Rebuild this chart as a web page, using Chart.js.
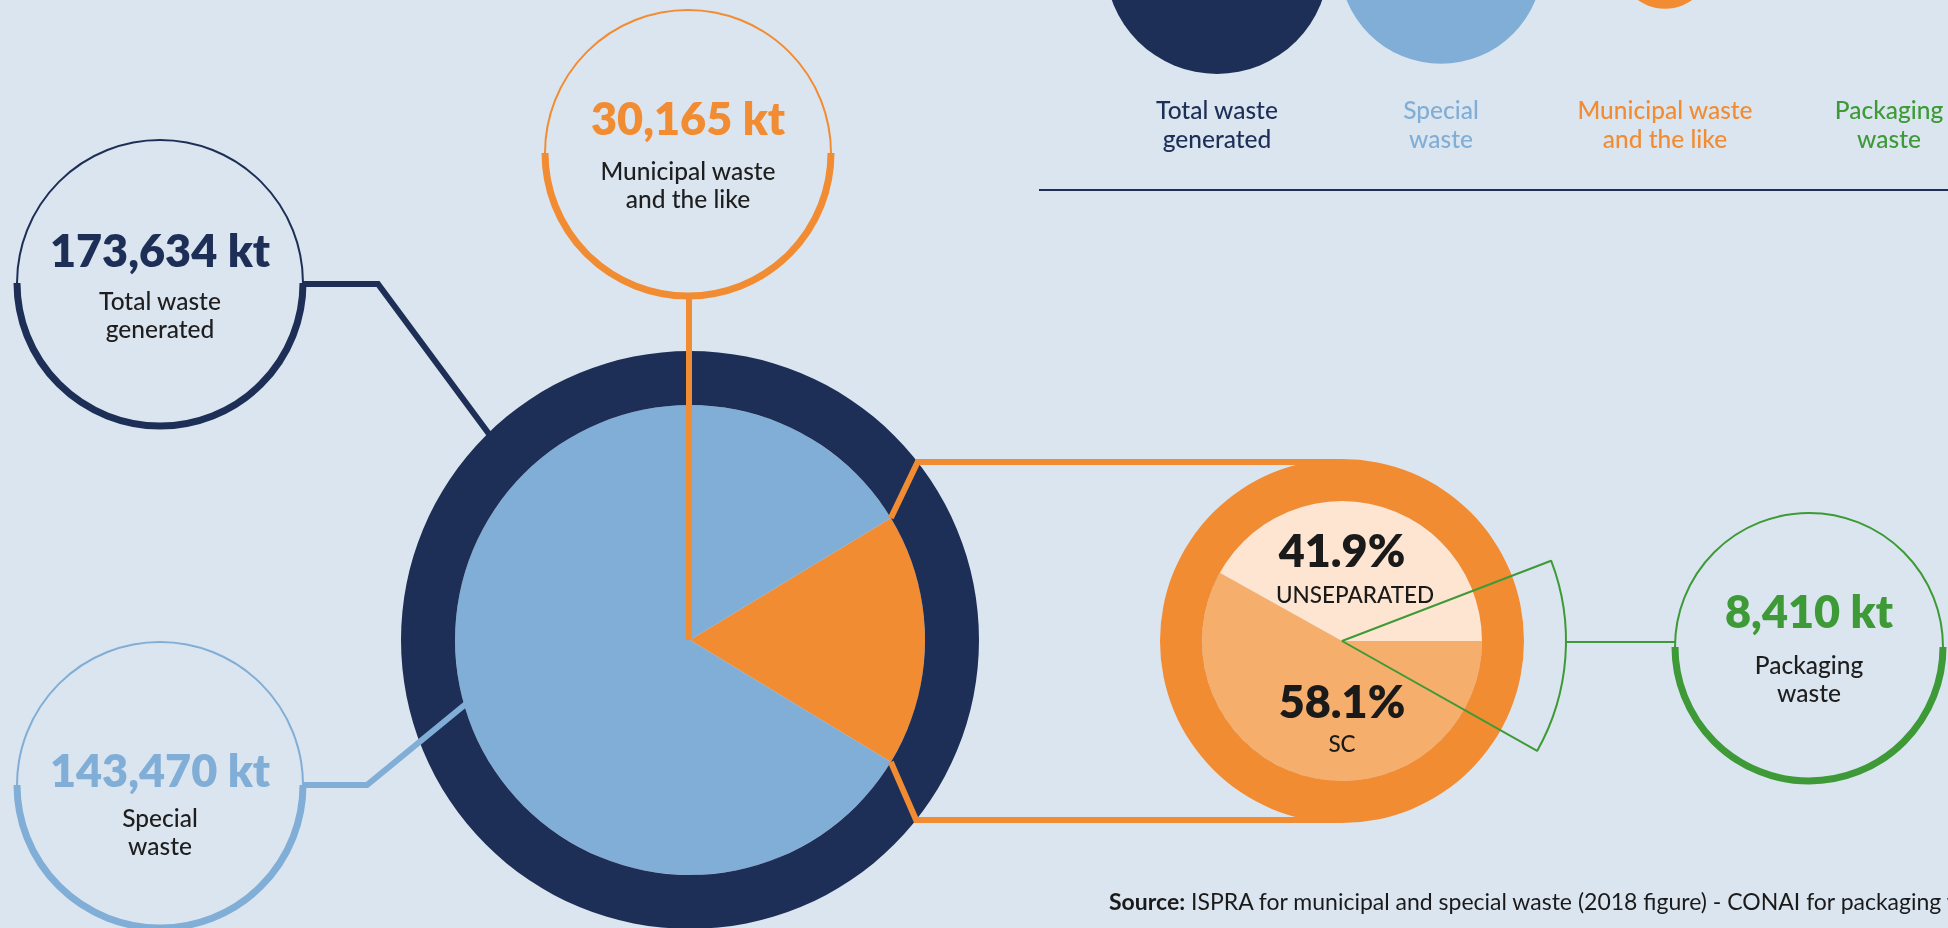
<!DOCTYPE html>
<html>
<head>
<meta charset="utf-8">
<script src="https://cdn.jsdelivr.net/npm/chart.js@4.4.0/dist/chart.umd.min.js"></script>
<style>
    html, body { margin: 0; padding: 0; }
    body { width: 1948px; height: 928px; overflow: hidden; background: #DBE5EF; position: relative; font-family: Lato, sans-serif; }
    canvas { position: absolute; }
    #overlay { position: absolute; left: 0; top: 0; }
    .big { font: 800 45px Lato, sans-serif; }
    .lbl { font: 500 24.5px Lato, sans-serif; fill: #1E1E1E; }
    .pct { font: 800 45px Lato, sans-serif; fill: #1A1A1A; }
    .cap { font: 500 22.5px Lato, sans-serif; fill: #1A1A1A; }
    .src { font: 400 23px Lato, sans-serif; fill: #1A1A1A; }
</style>
</head>
<body>
<canvas id="legendChart" width="896" height="300" style="left:1105px; top:-188px"></canvas>
<canvas id="mainChart" width="600" height="600" style="left:390px; top:340px"></canvas>
<canvas id="municipalChart" width="400" height="400" style="left:1142px; top:441px"></canvas>
<canvas id="packagingChart" width="500" height="500" style="left:1092px; top:391px"></canvas>
<svg id="overlay" width="1948" height="928"></svg>

<script>
// --- Data ---
const wasteCategories = ['Total waste generated', 'Special waste', 'Municipal waste and the like', 'Packaging waste'];
const wasteValuesKt = [173634, 143470, 30165, 8410];
const legendLines = [['Total waste', 'generated'], ['Special', 'waste'], ['Municipal waste', 'and the like'], ['Packaging', 'waste']];
const municipalSplitLabels = ['UNSEPARATED', 'SC'];
const municipalSplitPct = [41.9, 58.1];
const packagingWedgePct = [14, 86]; // wedge as drawn on the picture

// Colors
const NAVY = '#1E2F57';
const LIGHT = '#80AED6';
const ORANGE = '#F28C33';
const GREEN = '#3D9A37';
const PEACH = '#FDE5D1';
const SC_COLOR = '#F5AE6C';
const seriesColors = [NAVY, LIGHT, ORANGE, GREEN];

// Geometry of the two pies (page coords)
const MAIN = { cx: 690, cy: 640, ring: 289, pie: 235 };
const SMALL = { cx: 1342, cy: 641, ring: 182, pie: 140, wedge: 224 };
const LEGEND_LEFT = 1105;

const noInteraction = {
    responsive: false,
    animation: false,
    events: [],
    layout: { padding: 0, autoPadding: false },
    plugins: { legend: { display: false }, tooltip: { enabled: false } }
};

// Top bubble legend (area proportional to kt)
const bubbleK = 112 / Math.sqrt(wasteValuesKt[0]);
const legendChart = new Chart(document.getElementById('legendChart'), {
    type: 'bubble',
    data: {
        labels: wasteCategories,
        datasets: [{
            data: wasteValuesKt.map((v, i) => ({ x: wasteCategories[i], y: 0, r: bubbleK * Math.sqrt(v) })),
            backgroundColor: seriesColors,
            borderWidth: 0,
            clip: false
        }]
    },
    options: {
        ...noInteraction,
        scales: {
            x: { type: 'category', offset: true, display: false },
            y: { min: -1, max: 1, display: false }
        }
    }
});

// Main pie: total ring + special/municipal split
const municipalDeg = wasteValuesKt[2] / wasteValuesKt[0] * 360;
new Chart(document.getElementById('mainChart'), {
    type: 'doughnut',
    data: {
        labels: [wasteCategories[2], wasteCategories[1]],
        datasets: [
            { data: [wasteValuesKt[0]], backgroundColor: [NAVY], borderWidth: 0, weight: MAIN.ring - MAIN.pie },
            {
                data: [wasteValuesKt[2], wasteValuesKt[1]],
                backgroundColor: [ORANGE, LIGHT],
                borderWidth: 0,
                weight: MAIN.pie,
                rotation: 90 - municipalDeg / 2
            }
        ]
    },
    options: { ...noInteraction, radius: MAIN.ring, cutout: 0 }
});

// Municipal waste: ring + unseparated / SC
new Chart(document.getElementById('municipalChart'), {
    type: 'doughnut',
    data: {
        labels: municipalSplitLabels,
        datasets: [
            { data: [wasteValuesKt[2]], backgroundColor: [ORANGE], borderWidth: 0, weight: SMALL.ring - SMALL.pie },
            {
                data: municipalSplitPct,
                backgroundColor: [PEACH, SC_COLOR],
                borderWidth: 0,
                weight: SMALL.pie,
                rotation: 90 - municipalSplitPct[0] * 3.6
            }
        ]
    },
    options: { ...noInteraction, radius: SMALL.ring, cutout: 0 }
});

// Packaging wedge outline
new Chart(document.getElementById('packagingChart'), {
    type: 'pie',
    data: {
        labels: ['Packaging', ''],
        datasets: [{
            data: packagingWedgePct,
            backgroundColor: ['rgba(0,0,0,0)', 'rgba(0,0,0,0)'],
            borderColor: [GREEN, 'rgba(0,0,0,0)'],
            borderWidth: [2, 0],
            rotation: 69
        }]
    },
    options: { ...noInteraction, radius: SMALL.wedge }
});

// --- Overlay: connectors, bubbles with labels, texts ---
const svgNS = 'http://www.w3.org/2000/svg';
const overlay = document.getElementById('overlay');

function add(tag, attrs, text) {
    const el = document.createElementNS(svgNS, tag);
    for (const k in attrs) el.setAttribute(k, attrs[k]);
    if (text != null) el.textContent = text;
    overlay.appendChild(el);
    return el;
}

function line(points, color, width) {
    add('polyline', {
        points: points.map(p => p.join(',')).join(' '),
        fill: 'none', stroke: color, 'stroke-width': width, 'stroke-linejoin': 'miter'
    });
}

const fmt = v => v.toLocaleString('en-US');

// connectors
line([[303, 284], [378, 284], [489, 434]], NAVY, 6);
line([[303, 785], [367, 785], [467, 703]], LIGHT, 6);
line([[689, 296], [689, MAIN.cy]], ORANGE, 6);

const half = municipalDeg / 2 * Math.PI / 180;
const topY = SMALL.cy - SMALL.ring + 3;
const botY = SMALL.cy + SMALL.ring - 3;
const cornerTop = [MAIN.cx + MAIN.pie * Math.cos(half), MAIN.cy - MAIN.pie * Math.sin(half)];
const cornerBot = [MAIN.cx + MAIN.pie * Math.cos(half), MAIN.cy + MAIN.pie * Math.sin(half)];
const ringTop = [MAIN.cx + Math.sqrt(MAIN.ring ** 2 - (MAIN.cy - topY) ** 2), topY];
const ringBot = [MAIN.cx + Math.sqrt(MAIN.ring ** 2 - (botY - MAIN.cy) ** 2), botY];
line([cornerTop, ringTop, [SMALL.cx, topY]], ORANGE, 6);
line([cornerBot, ringBot, [SMALL.cx, botY]], ORANGE, 6);
line([[SMALL.cx + SMALL.wedge, SMALL.cy + 1], [1675, SMALL.cy + 1]], GREEN, 2);

function valueBubble(cx, cy, r, color, value, lines, numBase, lineBase) {
    add('circle', { cx, cy, r, fill: 'none', stroke: color, 'stroke-width': 2 });
    add('path', { d: `M ${cx - r} ${cy} A ${r} ${r} 0 0 0 ${cx + r} ${cy}`, fill: 'none', stroke: color, 'stroke-width': 7 });
    add('text', { x: cx, y: numBase, 'text-anchor': 'middle', class: 'big', fill: color }, fmt(value) + ' kt');
    lines.forEach((t, i) => add('text', { x: cx, y: lineBase + i * 28, 'text-anchor': 'middle', class: 'lbl' }, t));
}

valueBubble(160, 283, 143, NAVY, wasteValuesKt[0], legendLines[0], 267, 310);
valueBubble(688, 153, 143, ORANGE, wasteValuesKt[2], legendLines[2], 135, 180);
valueBubble(160, 785, 143, LIGHT, wasteValuesKt[1], legendLines[1], 787, 827);
valueBubble(1809, 647, 134, GREEN, wasteValuesKt[3], legendLines[3], 628, 674);

// municipal split labels
add('text', { x: SMALL.cx, y: 567, 'text-anchor': 'middle', class: 'pct' }, municipalSplitPct[0].toFixed(1) + '%');
add('text', { x: SMALL.cx + 13, y: 603, 'text-anchor': 'middle', class: 'cap' }, municipalSplitLabels[0]);
add('text', { x: SMALL.cx, y: 718, 'text-anchor': 'middle', class: 'pct' }, municipalSplitPct[1].toFixed(1) + '%');
add('text', { x: SMALL.cx, y: 752, 'text-anchor': 'middle', class: 'cap' }, municipalSplitLabels[1]);

// legend labels under the bubbles
const xScale = legendChart.scales.x;
wasteCategories.forEach((c, i) => {
    const x = LEGEND_LEFT + xScale.getPixelForValue(i);
    legendLines[i].forEach((t, j) => {
        add('text', { x, y: 119 + j * 29, 'text-anchor': 'middle', class: 'lbl', style: 'fill:' + seriesColors[i] }, t);
    });
});
add('line', { x1: 1039, y1: 190, x2: 1948, y2: 190, stroke: NAVY, 'stroke-width': 2 });

// source
const src = add('text', { x: 1109, y: 910, class: 'src' });
const b = document.createElementNS(svgNS, 'tspan');
b.setAttribute('font-weight', '700');
b.textContent = 'Source:';
src.appendChild(b);
const rest = document.createElementNS(svgNS, 'tspan');
rest.textContent = ' ISPRA for municipal and special waste (2018 figure) - CONAI for packaging waste';
src.appendChild(rest);
</script>
</body>
</html>
